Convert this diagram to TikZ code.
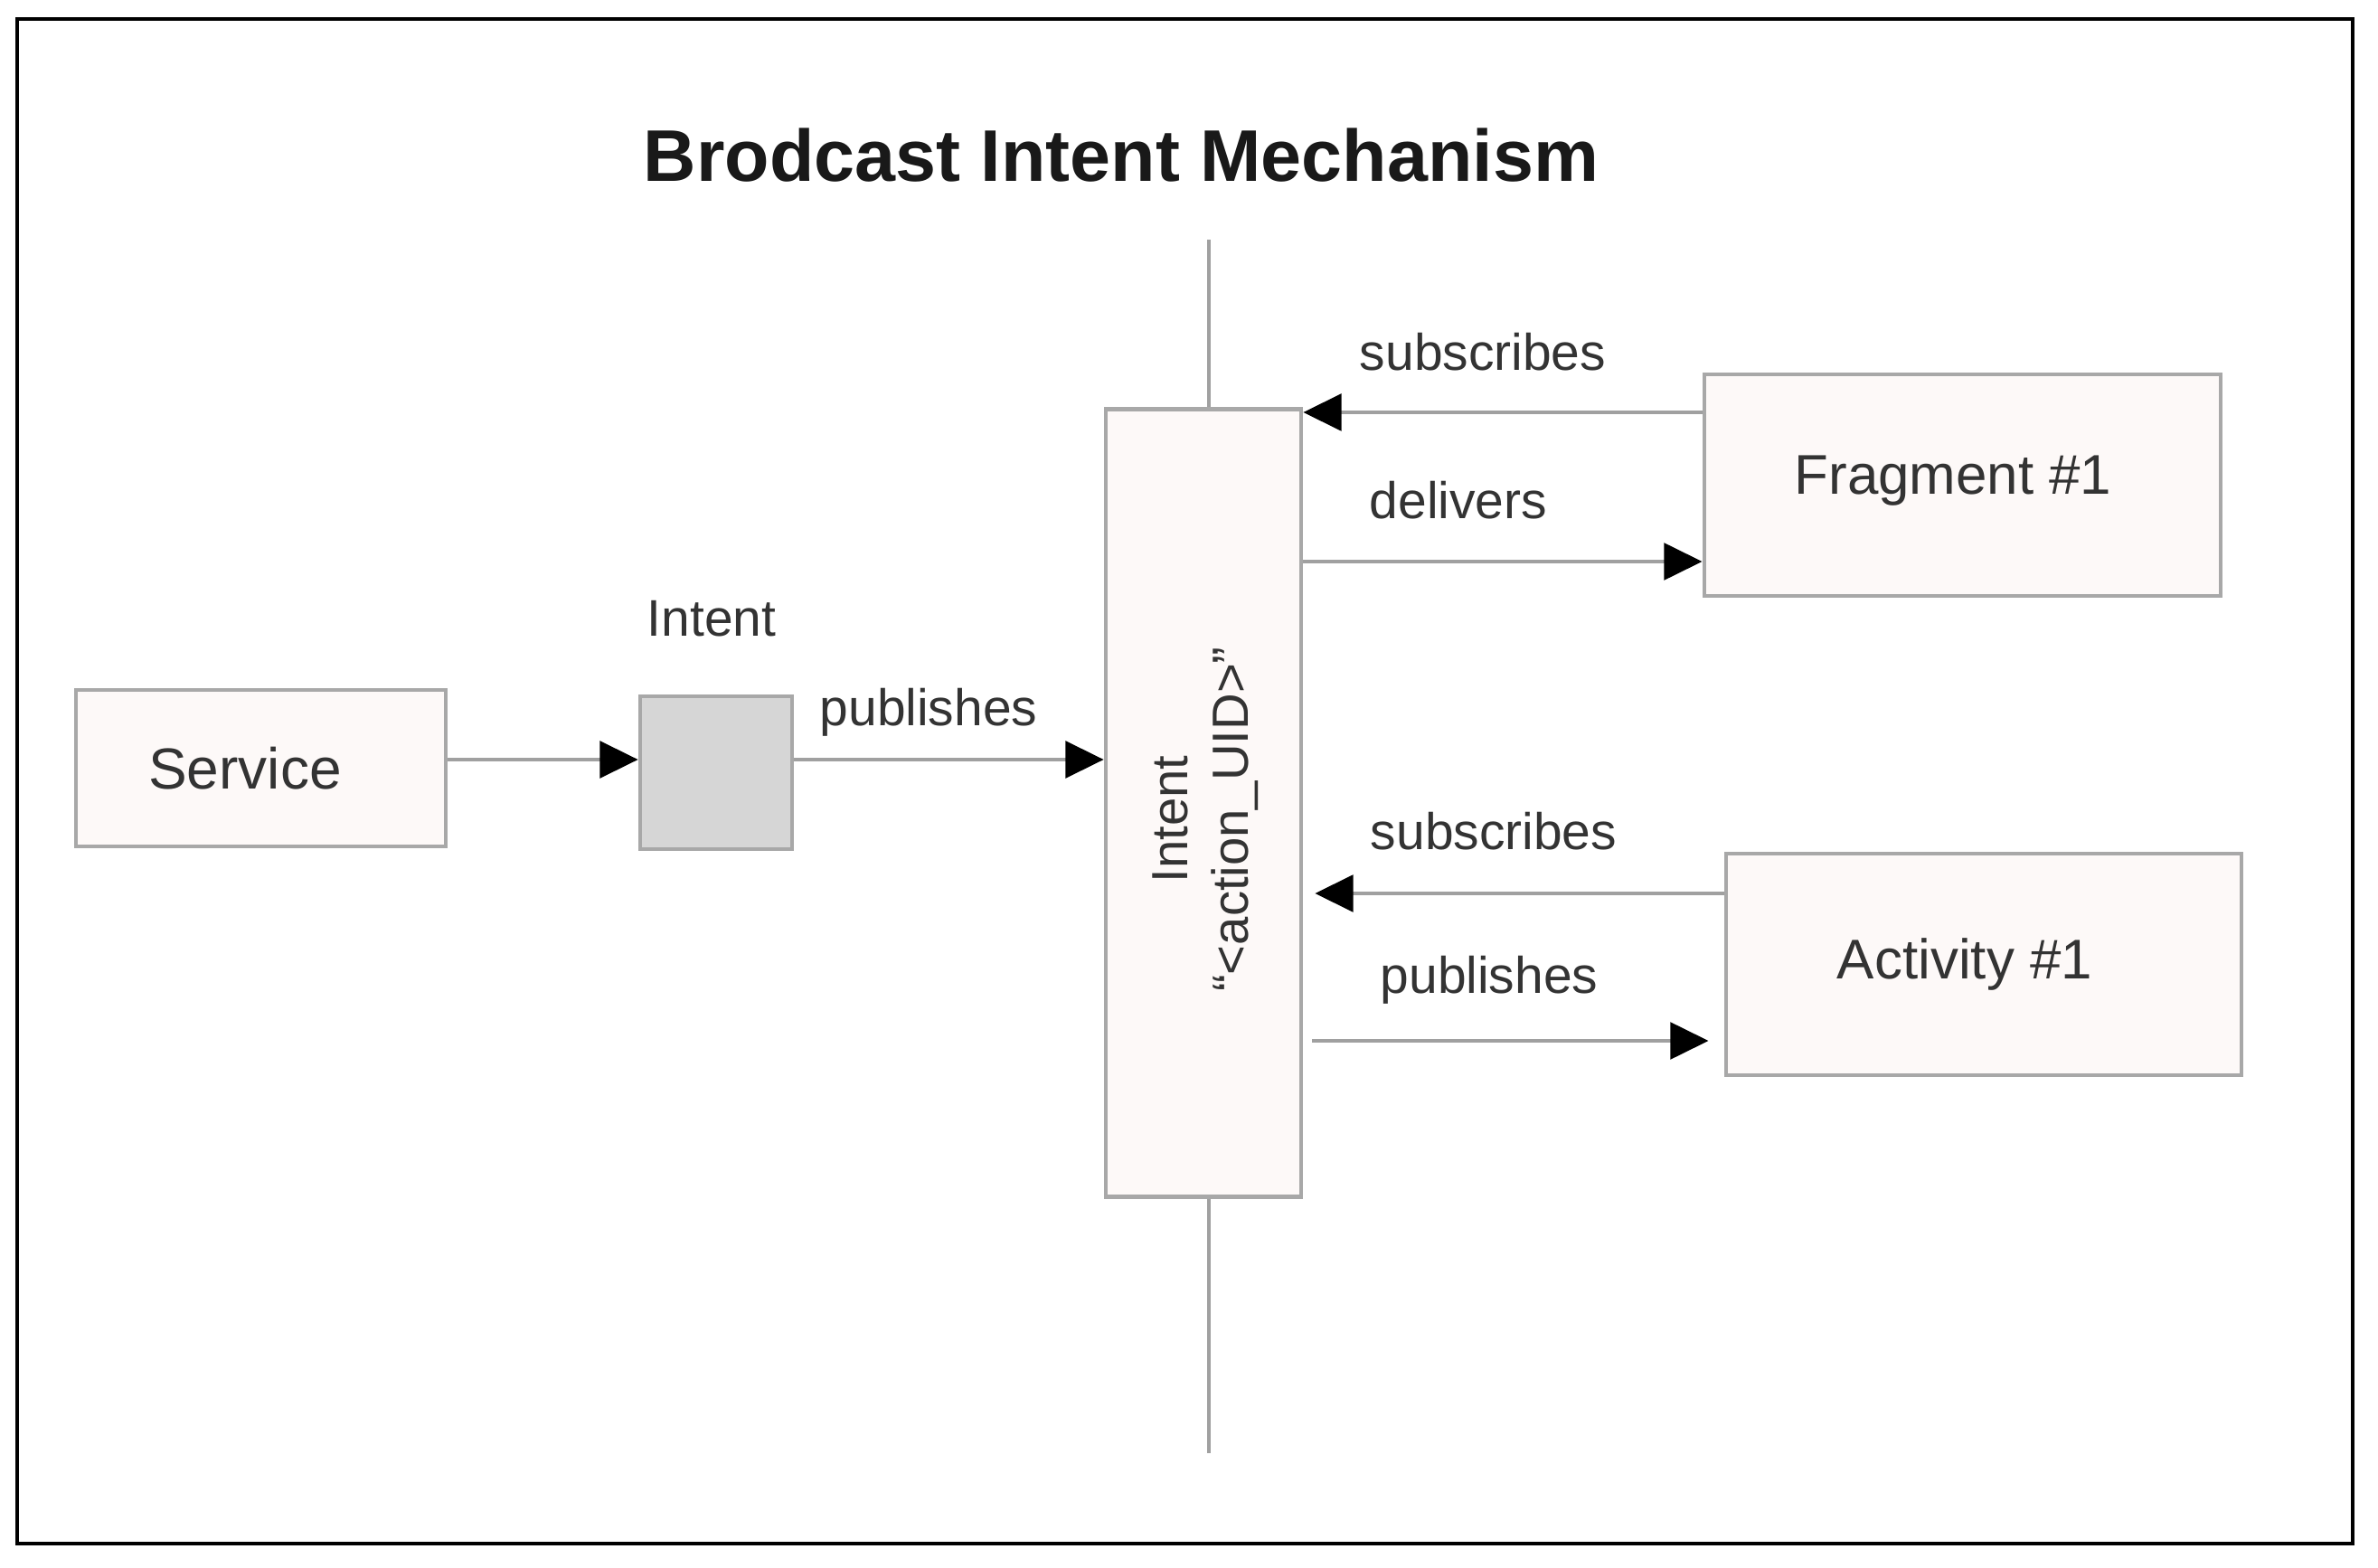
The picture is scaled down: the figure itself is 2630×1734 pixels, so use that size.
\documentclass[tikz,border=0pt]{standalone}
\usepackage{fontspec}
\setmainfont{Liberation Sans}
\usetikzlibrary{arrows.meta}
\definecolor{boxfill}{HTML}{FDF9F8}
\definecolor{boxdraw}{HTML}{A8A8A8}
\definecolor{grayfill}{HTML}{D6D6D6}
\definecolor{linegray}{HTML}{A0A0A0}
\definecolor{txt}{HTML}{333333}
\begin{document}
\begin{tikzpicture}[x=0.01cm,y=-0.01cm,
  boxnode/.style={draw=boxdraw, fill=boxfill, line width=1.3pt, inner sep=0pt, text=txt, font=\fontsize{17.6}{21}\selectfont},
  lbl/.style={text=txt, inner sep=0pt, font=\fontsize{16.2}{19}\selectfont},
  arr/.style={draw=linegray, line width=1.2pt, -{Triangle[length=12pt,width=11.5pt,color=black]}},
  plain/.style={draw=linegray, line width=1.2pt}]
\useasboundingbox (0,0) rectangle (2630,1734);
\fill[white] (0,0) rectangle (2630,1734);
\draw[black, line width=1.3pt] (19,21) rectangle (2602,1707);

\node[anchor=base, text=black!90, font=\fontsize{23}{27}\selectfont\bfseries] (title) at (1240,201) {Brodcast Intent Mechanism};

\node[boxnode, minimum width=4.09cm, minimum height=1.73cm] (svc) at (288.5,849.5) {};
\node[text=txt, inner sep=0pt, font=\fontsize{18.2}{21}\selectfont] (svct) at (271,849.5) {Service};
\node[boxnode, fill=grayfill, minimum width=1.68cm, minimum height=1.69cm] (gray) at (792,854.5) {};
\node[boxnode, minimum width=2.16cm, minimum height=8.70cm] (c) at (1331,888) {};
\node[rotate=90, align=center, text=txt, inner sep=0pt, font=\fontsize{16}{19}\selectfont] (ctext) at (1333,906) {Intent\\“<action\_UID>”};
\node[boxnode, minimum width=5.71cm, minimum height=2.45cm] (frag) at (2170.5,536.5) {};
\node[text=txt, inner sep=0pt, font=\fontsize{17.6}{21}\selectfont] (fragt) at (2160,532) {Fragment \#1};
\node[boxnode, minimum width=5.70cm, minimum height=2.45cm] (act) at (2194,1066.5) {};
\node[text=txt, inner sep=0pt, font=\fontsize{17.6}{21}\selectfont] (actt) at (2173,1066) {Activity \#1};

\coordinate (ltop) at (1337,265);
\coordinate (lbot) at (1337,1607);
\draw[plain] (ltop) -- (ltop |- c.north);
\draw[plain] (lbot |- c.south) -- (lbot);

\node[lbl] (lintent) at (787,684) {Intent};
\node[lbl] (lpub1) at (1027,788) {publishes};
\node[lbl] (lsub1) at (1640,389) {subscribes};
\node[lbl] (ldel) at (1613,553) {delivers};
\node[lbl] (lsub2) at (1652,919) {subscribes};
\node[lbl] (lpub2) at (1647,1084) {publishes};

\draw[arr] (svc.east |- 0,840) -- (gray.west |- 0,840);
\draw[arr] (gray.east |- 0,840) -- (c.west |- 0,840);
\draw[arr] (frag.west |- 0,456) -- (c.east |- 0,456);
\draw[arr] (c.east |- 0,621) -- (frag.west |- 0,621);
\draw[arr, shorten >=0.13cm] (act.west |- 0,988) -- (c.east |- 0,988);
\draw[arr, shorten <=0.10cm, shorten >=0.17cm] (c.east |- 0,1151) -- (act.west |- 0,1151);
\end{tikzpicture}
\end{document}
